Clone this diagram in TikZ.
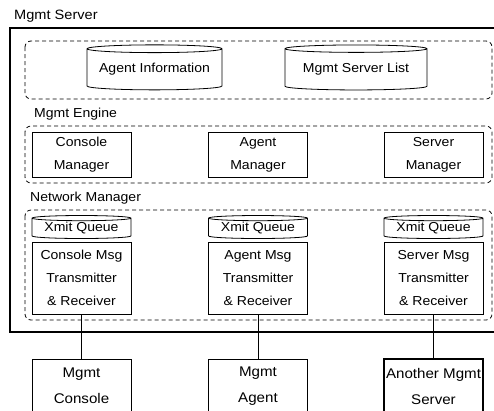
\documentclass[tikz,border=0pt]{standalone}
\usepackage{fontspec}
\setmainfont{Liberation Sans}[FakeStretch=1.08]
\usetikzlibrary{shapes.geometric}
\begin{document}
\begin{tikzpicture}[x=1pt,y=-1pt,font=\fontsize{13}{23}\selectfont,
        box/.style={draw,line width=0.8pt,inner sep=0pt,minimum width=99pt,align=center},
        store/.style={draw,line width=0.8pt,cylinder,shape border rotate=90,inner sep=0pt,aspect=0.07},
        group/.style={draw,line width=0.8pt,dash pattern=on 4pt off 3pt,rounded corners=6pt},
        title/.style={anchor=west,inner sep=0pt}]
        \def\ca{81.5}
        \def\cb{258}
        \def\cc{433.5}
        \useasboundingbox (0,0) rectangle (494,410);
        \clip (0,0) rectangle (494,410);

        % server frame
        \node[title,font=\fontsize{13.5}{16}\selectfont] (srv) at (14,16) {Mgmt Server};
        \draw[line width=2.2pt] (10,28) rectangle (510,332);

        % data stores
        \draw[group] (25,41) rectangle (492,99);
        \node[store,minimum width=135pt,minimum height=45pt] (ainfo) at (154.5,69.5) {Agent Information};
        \node[store,minimum width=142pt,minimum height=45pt] (slist) at (356,69.5) {Mgmt Server List};

        % engine
        \node[title] (eng) at (34,114) {Mgmt Engine};
        \draw[group] (25,126) rectangle (492,183);
        \node[box,minimum height=45pt] (cmgr) at (\ca,154.5) {Console\\Manager};
        \node[box,minimum height=45pt] (amgr) at (\cb,154.5) {Agent\\Manager};
        \node[box,minimum height=45pt] (smgr) at (\cc,154.5) {Server\\Manager};

        % network manager
        \node[title] (net) at (30,198) {Network Manager};
        \draw[group] (25,210) rectangle (492,320);
        \node[store,minimum width=99pt,minimum height=23pt] (cq) at (\ca,228.5) {Xmit Queue};
        \node[store,minimum width=99pt,minimum height=23pt] (aq) at (\cb,228.5) {Xmit Queue};
        \node[store,minimum width=99pt,minimum height=23pt] (sq) at (\cc,228.5) {Xmit Queue};
        \node[box,minimum height=72pt] (ctx) at (\ca,278) {Console Msg\\Transmitter\\\& Receiver};
        \node[box,minimum height=72pt] (atx) at (\cb,278) {Agent Msg\\Transmitter\\\& Receiver};
        \node[box,minimum height=72pt] (stx) at (\cc,278) {Server Msg\\Transmitter\\\& Receiver};

        % peers outside the server
        \node[box,minimum height=54pt,font=\fontsize{14}{26}\selectfont] (mcon) at (\ca,386) {Mgmt\\Console};
        \node[box,minimum height=54pt,font=\fontsize{14}{26}\selectfont] (magt) at (\cb,386) {Mgmt\\Agent};
        \node[box,minimum height=54pt,font=\fontsize{14}{26}\selectfont,line width=2.2pt] (msrv) at (\cc,386) {Another Mgmt\\Server};

        \draw[line width=0.8pt] (ctx.south) -- (mcon.north);
        \draw[line width=0.8pt] (atx.south) -- (magt.north);
        \draw[line width=0.8pt] (stx.south) -- (msrv.north);
\end{tikzpicture}
\end{document}
